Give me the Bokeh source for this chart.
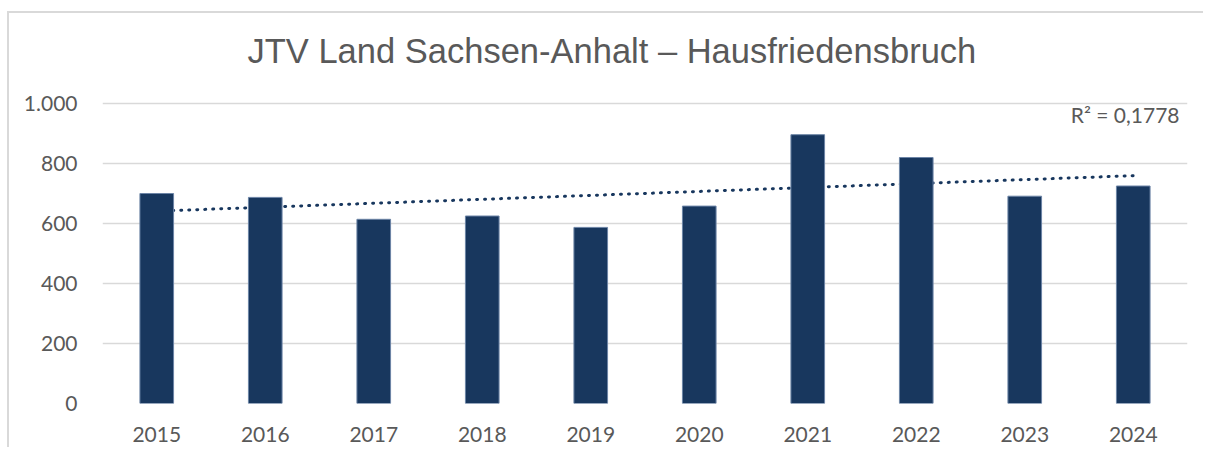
import numpy as np
from bokeh.plotting import figure
from bokeh.models import FactorRange, Range1d, FixedTicker, Label, ColumnDataSource
from bokeh.embed import file_html
from bokeh.resources import INLINE

years = ["2015", "2016", "2017", "2018", "2019", "2020", "2021", "2022", "2023", "2024"]
values = [700, 687, 614, 625, 587, 658, 896, 820, 691, 725]
y_ticks = [0, 200, 400, 600, 800, 1000]
y_tick_labels = ["0", "200", "400", "600", "800", "1.000"]
title_text = "JTV Land Sachsen-Anhalt \u2013 Hausfriedensbruch"
r2_text = "R\u00b2 = 0,1778"

# linear trend (least squares) over the series
xi = np.arange(1, len(values) + 1)
slope, intercept = np.polyfit(xi, np.array(values, dtype=float), 1)
trend = list(slope * xi + intercept)

src = ColumnDataSource(dict(year=years, value=values, trend=trend))

GRAY = "#595959"
NAVY = "#18375E"
TICK_FONT = "Lato"

# the frame extends up into the title area (headroom above 1.000 holds the title)
p = figure(
    width=1196, height=436,
    x_range=FactorRange(factors=years, range_padding=0),
    y_range=Range1d(0, 1300),
    output_backend="svg", toolbar_location=None,
    min_border_left=93, min_border_right=18, min_border_top=0, min_border_bottom=46,
)
p.styles = {"border-top": "2px solid #D9D9D9", "border-left": "2px solid #D9D9D9",
            "margin-top": "11px", "margin-left": "7px"}
p.outline_line_color = None
p.background_fill_color = "white"
p.border_fill_color = "white"

p.line(x="year", y="trend", source=src, line_color=NAVY, line_width=3,
       line_dash="1 7", line_cap="round")
p.vbar(x="year", top="value", source=src, width=0.31, fill_color=NAVY,
       line_color="#6C84A6", line_width=1)

p.xgrid.grid_line_color = None
p.ygrid.grid_line_color = "#D9D9D9"
p.ygrid.grid_line_width = 1.5
p.yaxis.ticker = FixedTicker(ticks=y_ticks)
p.yaxis.major_label_overrides = {t: l for t, l in zip(y_ticks, y_tick_labels)}

for ax in (p.xaxis[0], p.yaxis[0]):
    ax.axis_line_color = None
    ax.major_tick_line_color = None
    ax.minor_tick_line_color = None
    ax.major_label_text_font = TICK_FONT
    ax.major_label_text_font_size = "21px"
    ax.major_label_text_color = GRAY
p.yaxis.major_label_standoff = 19
p.xaxis.major_label_standoff = 17

p.add_layout(Label(x=145, y=353, x_units="screen", y_units="screen", text=title_text,
                   text_align="left", text_baseline="alphabetic",
                   text_font="Liberation Sans", text_font_size="34.5px", text_color=GRAY))
p.add_layout(Label(x=1077, y=289, x_units="screen", y_units="screen", text=r2_text,
                   text_align="right", text_baseline="alphabetic",
                   text_font=TICK_FONT, text_font_size="21px", text_color=GRAY))

open("out.html", "w").write(file_html(p, INLINE))
